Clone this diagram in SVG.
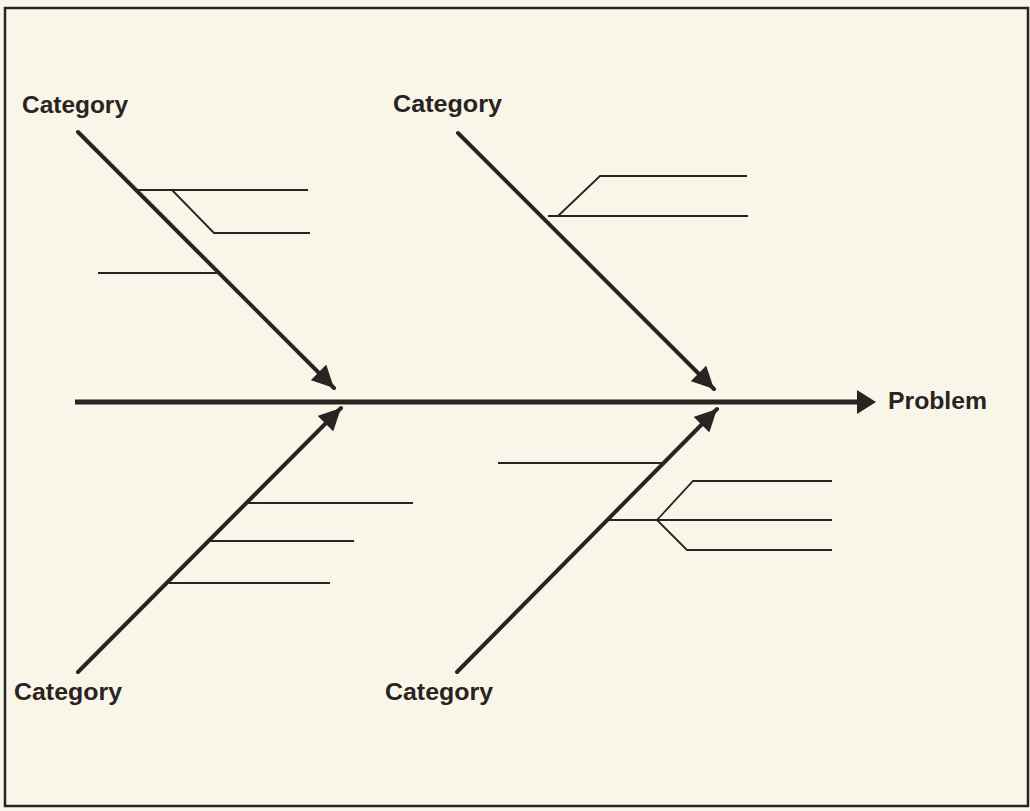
<svg xmlns="http://www.w3.org/2000/svg" width="1030" height="811" viewBox="0 0 1030 811">
  <style>
    .bone { stroke: #2a2321; stroke-width: 4; fill: none; stroke-linecap: round; }
    .spine { stroke: #2a2321; stroke-width: 5; fill: none; }
    .twig { stroke: #2a2321; stroke-width: 1.8; fill: none; }
    .label { font-family: "Liberation Sans", Arial, sans-serif; font-weight: bold; font-size: 23px; fill: #2a2321; }
  </style>
  <defs>
    <marker id="bone-head" viewBox="0 0 10 10" refX="10" refY="5" markerWidth="5.5" markerHeight="5.5" orient="auto" markerUnits="strokeWidth">
      <path d="M0,0 L10,5 L0,10 Z" fill="#2a2321"/>
    </marker>
  </defs>

  <!-- page background and frame -->
  <rect x="0" y="0" width="1030" height="811" fill="#f8f6e9"/>
  <rect x="5" y="8" width="1023" height="798" fill="none" stroke="#2a2321" stroke-width="2.5"/>

  <g id="connectors">
    <!-- main spine toward the problem -->
    <line class="spine" x1="75" y1="402" x2="860" y2="402"/>
    <path d="M857,390 L876,402 L857,414 Z" fill="#2a2321"/>

    <!-- category bones -->
    <line class="bone" x1="78" y1="132" x2="334" y2="388" marker-end="url(#bone-head)"/>
    <line class="bone" x1="458" y1="133" x2="714" y2="389" marker-end="url(#bone-head)"/>
    <line class="bone" x1="78" y1="672" x2="341" y2="408" marker-end="url(#bone-head)"/>
    <line class="bone" x1="457" y1="672" x2="717" y2="409" marker-end="url(#bone-head)"/>

    <!-- upper-left causes -->
    <polyline class="twig" points="137,190 308,190"/>
    <polyline class="twig" points="172,190 214,233 310,233"/>
    <polyline class="twig" points="98,273 217,273"/>

    <!-- upper-right causes -->
    <polyline class="twig" points="548,216 748,216"/>
    <polyline class="twig" points="558,216 600,176 747,176"/>

    <!-- lower-left causes -->
    <polyline class="twig" points="248,503 413,503"/>
    <polyline class="twig" points="210,541 354,541"/>
    <polyline class="twig" points="169,583 330,583"/>

    <!-- lower-right causes -->
    <polyline class="twig" points="498,463 663,463"/>
    <polyline class="twig" points="607,520 832,520"/>
    <polyline class="twig" points="657,520 693,481 832,481"/>
    <polyline class="twig" points="657,520 687,550 832,550"/>
  </g>

  <g id="cat-upper-left"><text class="label" x="22" y="113" textLength="106" lengthAdjust="spacingAndGlyphs">Category</text></g>
  <g id="cat-upper-right"><text class="label" x="393" y="112" textLength="109" lengthAdjust="spacingAndGlyphs">Category</text></g>
  <g id="cat-lower-left"><text class="label" x="14" y="700" textLength="108" lengthAdjust="spacingAndGlyphs">Category</text></g>
  <g id="cat-lower-right"><text class="label" x="385" y="700" textLength="108" lengthAdjust="spacingAndGlyphs">Category</text></g>
  <g id="problem"><text class="label" x="888" y="409" font-size="25" textLength="99" lengthAdjust="spacingAndGlyphs">Problem</text></g>
</svg>
